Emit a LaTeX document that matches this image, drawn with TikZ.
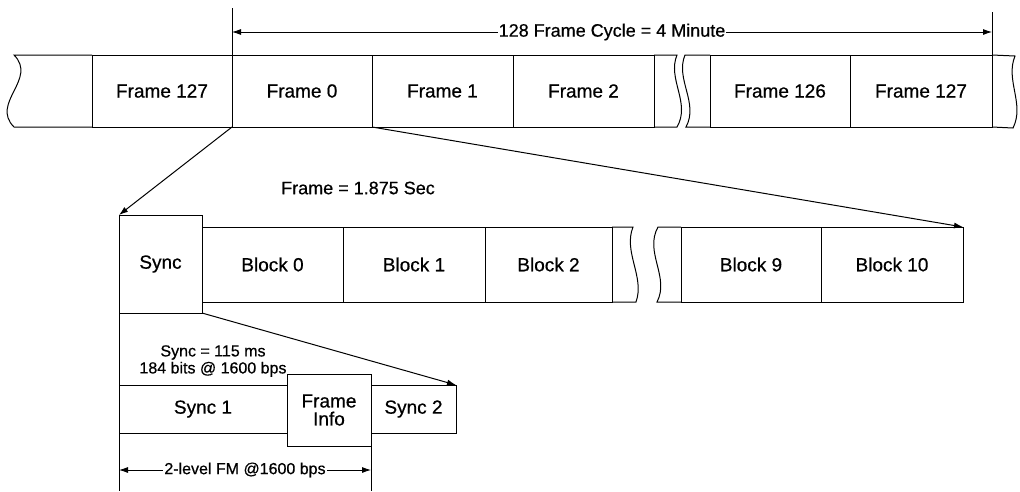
\documentclass[tikz,border=0pt]{standalone}
\usepackage{fontspec}
\setmainfont[FakeBold=0.6,AutoFakeBold=0.6]{Liberation Sans}
\usetikzlibrary{arrows.meta}
\begin{document}
\begin{tikzpicture}[x=1pt,y=-1pt,line width=1pt,
  cell/.style={draw,anchor=north west,inner sep=0pt,outer sep=0pt,align=center,
    font=\fontsize{19}{19}\selectfont\bfseries},
  small/.style={font=\fontsize{16}{17}\selectfont\bfseries,inner sep=1pt,align=center},
  dimtext/.style={font=\fontsize{18}{20}\selectfont\bfseries,fill=white,inner sep=1pt},
  >={Latex[length=9pt,width=6pt]}]
\useasboundingbox (0,0) rectangle (1020,491);
% ---- top row: frames
\node[cell,minimum width=140pt,minimum height=72pt] (f127a) at (92,55) {Frame 127};
\node[cell,minimum width=140pt,minimum height=72pt] (f0) at (232,55) {Frame 0};
\node[cell,minimum width=141pt,minimum height=72pt] (f1) at (372,55) {Frame 1};
\node[cell,minimum width=141pt,minimum height=72pt] (f2) at (513,55) {Frame 2};
\node[cell,minimum width=140pt,minimum height=72pt] (f126) at (710,55) {Frame 126};
\node[cell,minimum width=142pt,minimum height=72pt] (f127b) at (850,55) {Frame 127};
% wavy ends
\draw (f127a.north west) -- (14,55) .. controls (38,79) and (-10,103) .. (14,127) -- (f127a.south west);
\draw (f2.north east) -- (677,55) .. controls (667,79) and (691,103) .. (677,127) -- (f2.south east);
\draw (f126.north west) -- (685,55) .. controls (675,79) and (699,103) .. (686,127) -- (f126.south west);
\draw (f127b.north east) -- (1015,56) .. controls (1005,80) and (1025,104) .. (1013,128) -- (f127b.south east);
% cycle dimension
\coordinate (ctop) at (232,8);
\coordinate (rtop) at (992,12);
\draw (f0.north west) -- (ctop);
\draw (f127b.north east) -- (rtop);
\coordinate (dl) at (232,32);
\coordinate (dr) at (992,32);
\draw[<->,line width=0.8pt] (dl) -- (dr) node[dimtext,pos=0.5] (cyc) {128 Frame Cycle = 4 Minute};
% ---- second row: blocks
\node[cell,minimum width=83pt,minimum height=98pt] (sync) at (119,215) {Sync};
\node[cell,minimum width=141pt,minimum height=75pt] (b0) at (202,227) {Block 0};
\node[cell,minimum width=142pt,minimum height=75pt] (b1) at (343,227) {Block 1};
\node[cell,minimum width=127pt,minimum height=75pt] (b2) at (485,227) {Block 2};
\node[cell,minimum width=140pt,minimum height=75pt] (b9) at (681,227) {Block 9};
\node[cell,minimum width=142pt,minimum height=75pt] (b10) at (821,227) {Block 10};
\draw (b2.north east) -- (633,227) .. controls (623,252) and (645,277) .. (636,302) -- (b2.south east);
\draw (b9.north west) -- (658,227) .. controls (644,252) and (670,277) .. (657,302) -- (b9.south west);
\node[font=\fontsize{18}{20}\selectfont\bfseries] (flen) at (358,188) {Frame = 1.875 Sec};
% ---- third row: sync detail
\node[cell,minimum width=168pt,minimum height=48pt] (s1) at (119,385) {Sync 1};
\node[cell,minimum width=84pt,minimum height=72pt] (fi) at (287,374) {Frame\\[-1pt]Info};
\node[cell,minimum width=85pt,minimum height=48pt] (s2) at (371,385) {Sync 2};
\node[small] (slen) at (213,361) {Sync = 115 ms\\184 bits @ 1600 bps};
\coordinate (lbot) at (119,491);
\coordinate (rbot) at (371,491);
\draw (sync.south west) -- (lbot);
\draw (fi.south east) -- (rbot);
\coordinate (bl) at (119,470);
\coordinate (br) at (371,470);
\draw[<->,line width=0.8pt] (bl) -- (br) node[small,fill=white,pos=0.5] (fm) {2-level FM @1600 bps};
% ---- expansion connectors
\draw[->] (f0.south west) -- (sync.north west);
\draw[->] (f0.south east) -- (b10.north east);
\draw[->] (sync.south east) -- (s2.north east);
\end{tikzpicture}
\end{document}
